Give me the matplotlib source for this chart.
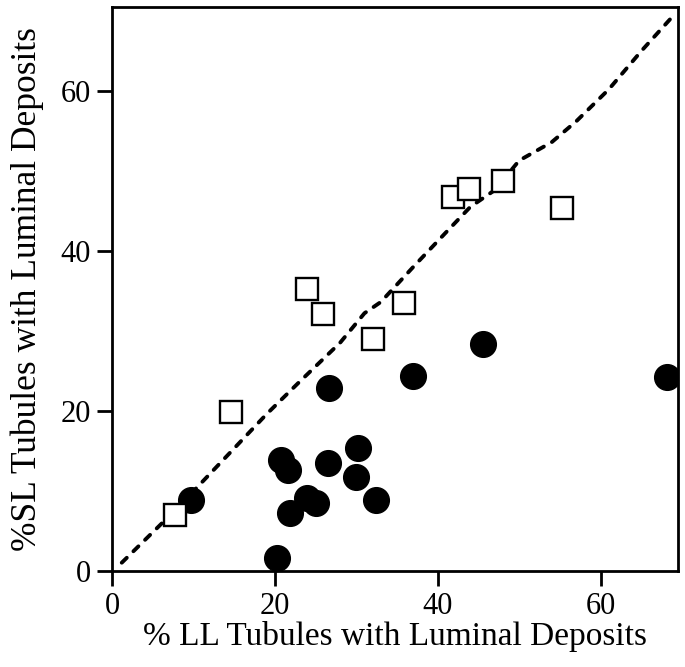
"""Scatter of SL vs LL tubules with luminal deposits."""

import matplotlib
matplotlib.use('Agg')
import matplotlib.pyplot as plt

# Open squares
sq_x = [7.7, 14.6, 24.0, 25.9, 32.0, 35.8, 41.9, 43.8, 48.0, 55.3]
sq_y = [7.0, 19.8, 35.2, 32.1, 29.0, 33.5, 46.7, 47.7, 48.8, 45.3]

# Filled circles
ci_x = [9.7, 20.3, 20.7, 21.6, 21.9, 24.0, 25.1, 26.5, 26.7, 30.2, 29.9, 32.4,
        45.5, 36.9, 68.2]
ci_y = [8.8, 1.55, 13.8, 12.6, 7.2, 9.05, 8.5, 13.5, 22.9, 15.3, 11.75, 8.9,
        28.3, 24.4, 24.25]

# Dashed trend curve
line_x = [1.2, 8.0, 15.0, 19.0, 23.0, 28.0, 31.0, 33.0, 37.0, 41.0, 44.0, 47.0,
          50.0, 54.0, 57.0, 61.0, 65.0, 69.0]
line_y = [1.0, 7.8, 15.3, 19.6, 23.6, 28.5, 32.2, 33.6, 38.0, 42.3, 45.5, 47.6,
          51.3, 53.6, 56.2, 60.2, 65.0, 69.5]

ticks = [0, 20, 40, 60]

plt.rcParams['font.family'] = ['Liberation Serif', 'DejaVu Serif']

fig = plt.figure(figsize=(6.85, 6.67), dpi=100)
ax = fig.add_axes([0.1635, 0.1444, 0.8263, 0.8451])

# Trend line
ax.plot(line_x, line_y, color='black', linewidth=2.8, linestyle=(0, (1.8, 2.4)),
        dash_capstyle='round', zorder=2)

# Points
ax.plot(ci_x, ci_y, 'o', color='black', markersize=18.5, zorder=3)
ax.plot(sq_x, sq_y, 's', markerfacecolor='white', markeredgecolor='black',
        markeredgewidth=1.7, markersize=16, zorder=4, clip_on=False)

ax.set_xlim(0, 69.5)
ax.set_ylim(0, 70.5)
ax.set_xticks(ticks)
ax.set_yticks(ticks)

for s in ax.spines.values():
    s.set_linewidth(2.0)

ax.tick_params(direction='out', length=11, width=2.0, labelsize=22, pad=4)

# Labels
ax.set_xlabel('% LL Tubules with Luminal Deposits', fontsize=24, labelpad=0)
ax.set_ylabel('%SL Tubules with Luminal Deposits', fontsize=25.5, labelpad=12)

plt.savefig('out.png', dpi=100)
